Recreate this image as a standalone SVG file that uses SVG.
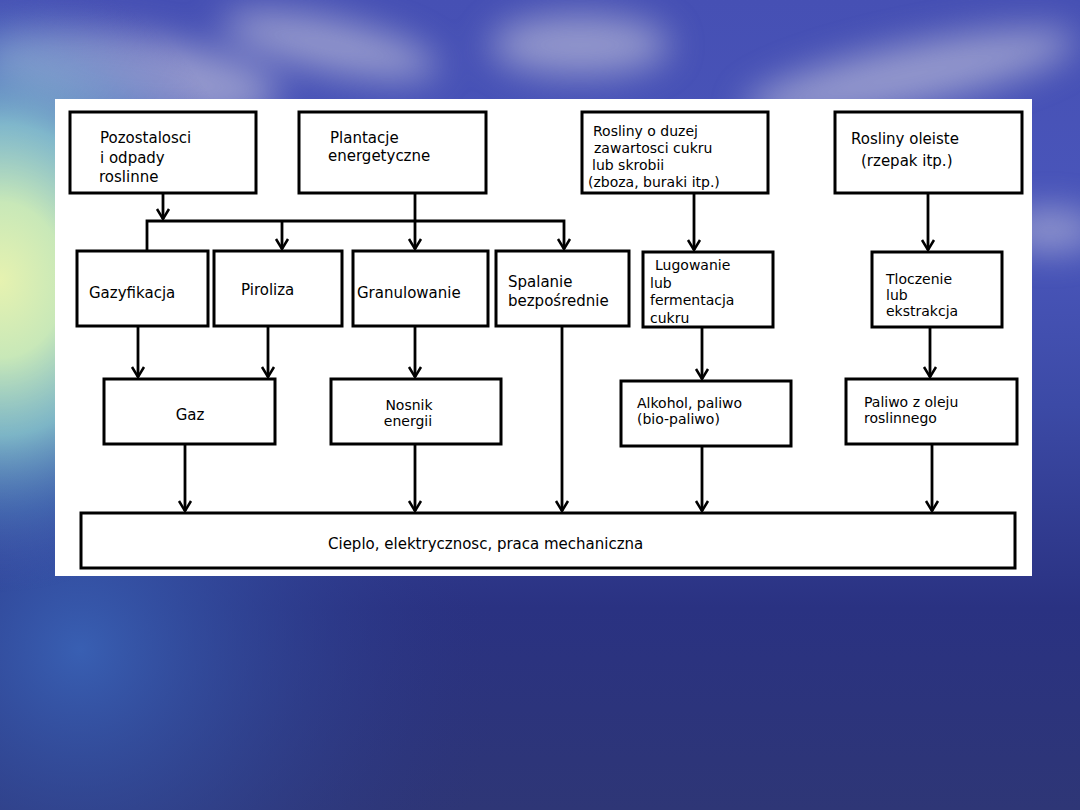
<svg xmlns="http://www.w3.org/2000/svg" width="1080" height="810" viewBox="0 0 1080 810">
<defs>
<linearGradient id="bg" x1="0" y1="0" x2="0" y2="1">
<stop offset="0" stop-color="#4650b4"/>
<stop offset="0.3" stop-color="#4a56bb"/>
<stop offset="0.5" stop-color="#3c4aa6"/>
<stop offset="0.75" stop-color="#2a3282"/>
<stop offset="1" stop-color="#2e3676"/>
</linearGradient>
<radialGradient id="glow" cx="0" cy="280" r="260" gradientUnits="userSpaceOnUse" gradientTransform="translate(0,280) scale(1,1.2) translate(0,-280)">
<stop offset="0" stop-color="#e6f2b0"/>
<stop offset="0.25" stop-color="#c8e8b8"/>
<stop offset="0.5" stop-color="#8ed0d0" stop-opacity="0.8"/>
<stop offset="0.75" stop-color="#5a90c8" stop-opacity="0.4"/>
<stop offset="1" stop-color="#4a56bb" stop-opacity="0"/>
</radialGradient>
<radialGradient id="water" cx="80" cy="650" r="420" gradientUnits="userSpaceOnUse">
<stop offset="0" stop-color="#3a64b8" stop-opacity="0.9"/>
<stop offset="1" stop-color="#2a3282" stop-opacity="0"/>
</radialGradient>
<filter id="blur" x="-50%" y="-100%" width="200%" height="300%"><feGaussianBlur stdDeviation="18"/></filter>
<marker id="ah" viewBox="-12 -8 14 16" markerWidth="14" markerHeight="16" refX="0" refY="0" orient="auto" markerUnits="userSpaceOnUse">
<path d="M-10,-6 L0,0 L-10,6" fill="none" stroke="#000" stroke-width="2.5"/>
</marker>
<style>
.box{fill:#fff;stroke:#000;stroke-width:3}
.t{font-family:"DejaVu Sans","Liberation Sans",sans-serif;font-size:15px;fill:#000}
.s{font-size:14px}
.c{fill:none;stroke:#000;stroke-width:2.8}
</style>
</defs>
<rect width="1080" height="810" fill="url(#bg)"/>
<rect width="1080" height="810" fill="url(#water)"/>
<g filter="url(#blur)" fill="#c8c8dc" opacity="0.6">
<ellipse cx="130" cy="75" rx="150" ry="40" transform="rotate(8 130 75)"/>
<ellipse cx="330" cy="45" rx="110" ry="26" transform="rotate(12 330 45)"/>
<ellipse cx="580" cy="45" rx="90" ry="30"/>
<ellipse cx="910" cy="75" rx="170" ry="30" transform="rotate(-12 910 75)"/>
<ellipse cx="1050" cy="230" rx="50" ry="20"/>
</g>
<rect width="1080" height="810" fill="url(#glow)"/>
<rect x="55" y="99" width="977" height="477" fill="#fff"/>

<g id="n1"><rect class="box" x="70" y="112" width="186" height="81"/>
<text class="t" x="100" y="143">Pozostalosci</text><text class="t" x="100" y="163">i odpady</text><text class="t" x="99" y="182">roslinne</text></g>
<g id="n2"><rect class="box" x="299" y="112" width="187" height="81"/>
<text class="t" x="330" y="143">Plantacje</text><text class="t" x="328" y="161">energetyczne</text></g>
<g id="n3"><rect class="box" x="582" y="112" width="186" height="81"/>
<text class="t s" x="593" y="136">Rosliny o duzej</text><text class="t s" x="594" y="153">zawartosci cukru</text><text class="t s" x="592" y="170">lub skrobii</text><text class="t s" x="588" y="187">(zboza, buraki itp.)</text></g>
<g id="n4"><rect class="box" x="835" y="112" width="187" height="81"/>
<text class="t" x="851" y="144">Rosliny oleiste</text><text class="t" x="861" y="166">(rzepak itp.)</text></g>

<g id="n5"><rect class="box" x="77" y="251" width="131" height="75"/><text class="t" x="89" y="298">Gazyfikacja</text></g>
<g id="n6"><rect class="box" x="214" y="251" width="128" height="75"/><text class="t" x="241" y="295">Piroliza</text></g>
<g id="n7"><rect class="box" x="353" y="251" width="135" height="75"/><text class="t" x="357" y="298">Granulowanie</text></g>
<g id="n8"><rect class="box" x="496" y="251" width="133" height="75"/><text class="t" x="508" y="287">Spalanie</text><text class="t" x="508" y="306">bezpośrednie</text></g>
<g id="n9"><rect class="box" x="643" y="252" width="130" height="75"/><text class="t s" x="655" y="270">Lugowanie</text><text class="t s" x="650" y="288">lub</text><text class="t s" x="650" y="305">fermentacja</text><text class="t s" x="650" y="323">cukru</text></g>
<g id="n10"><rect class="box" x="872" y="252" width="130" height="75"/><text class="t s" x="886" y="284">Tloczenie</text><text class="t s" x="886" y="300">lub</text><text class="t s" x="886" y="316">ekstrakcja</text></g>

<g id="n11"><rect class="box" x="104" y="379" width="171" height="65"/><text class="t" x="190" y="420" text-anchor="middle">Gaz</text></g>
<g id="n12"><rect class="box" x="331" y="379" width="170" height="65"/><text class="t s" x="409" y="410" text-anchor="middle">Nosnik</text><text class="t s" x="408" y="426" text-anchor="middle">energii</text></g>
<g id="n13"><rect class="box" x="621" y="381" width="170" height="65"/><text class="t s" x="637" y="408">Alkohol, paliwo</text><text class="t s" x="637" y="424">(bio-paliwo)</text></g>
<g id="n14"><rect class="box" x="846" y="379" width="171" height="65"/><text class="t s" x="864" y="407">Paliwo z oleju</text><text class="t s" x="864" y="423">roslinnego</text></g>

<g id="n15"><rect class="box" x="81" y="513" width="934" height="55"/><text class="t" x="328" y="549">Cieplo, elektrycznosc, praca mechaniczna</text></g>

<g id="connectors">
<path class="c" d="M163,193 V219" marker-end="url(#ah)"/>
<path class="c" d="M147,251 V221 H564 V249" marker-end="url(#ah)"/>
<path class="c" d="M282,221 V249" marker-end="url(#ah)"/>
<path class="c" d="M415,193 V249" marker-end="url(#ah)"/>
<path class="c" d="M694,193 V250" marker-end="url(#ah)"/>
<path class="c" d="M928,193 V250" marker-end="url(#ah)"/>
<path class="c" d="M138,326 V377" marker-end="url(#ah)"/>
<path class="c" d="M268,326 V377" marker-end="url(#ah)"/>
<path class="c" d="M415,326 V377" marker-end="url(#ah)"/>
<path class="c" d="M562,326 V511" marker-end="url(#ah)"/>
<path class="c" d="M702,327 V379" marker-end="url(#ah)"/>
<path class="c" d="M930,327 V377" stroke-width="1.6" marker-end="url(#ah)"/>
<path class="c" d="M185,444 V511" marker-end="url(#ah)"/>
<path class="c" d="M415,444 V511" marker-end="url(#ah)"/>
<path class="c" d="M702,446 V511" marker-end="url(#ah)"/>
<path class="c" d="M932,444 V511" marker-end="url(#ah)"/>
</g>
</svg>
